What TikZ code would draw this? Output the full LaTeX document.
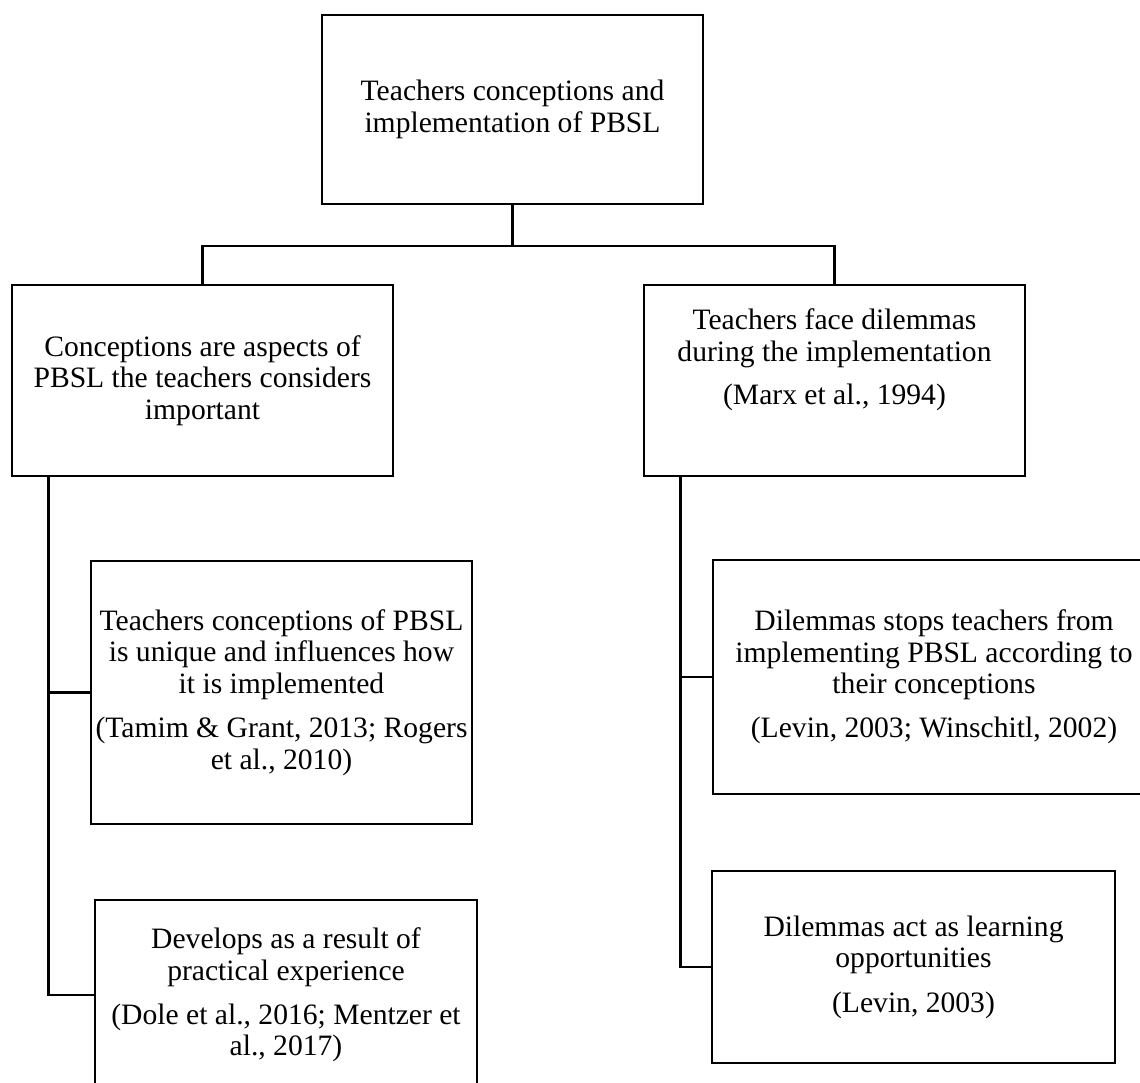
\documentclass[tikz,border=0pt]{standalone}
\usepackage{fontspec}
\setmainfont{Liberation Serif}
\usetikzlibrary{calc}

\tikzset{
  x=0.5pt, y=-0.5pt,
  box/.style={draw, line width=1.3pt, align=center, inner sep=0pt,
    font=\fontsize{14.8pt}{15.7pt}\selectfont},
  link/.style={line width=1.3pt}
}

\begin{document}
\begin{tikzpicture}
  \clip (0,0) rectangle (1140,1082);

  % root of the tree
  \node[box, minimum width=190.5pt, minimum height=94.5pt] (top) at (512.5,109.5)
    {Teachers conceptions and\\implementation of PBSL};

  % two main branches
  \node[box, minimum width=190.5pt, minimum height=95.5pt] (A) at (202.5,380.5)
    {Conceptions are aspects of\\PBSL the teachers considers\\important};
  \node[box, minimum width=190.5pt, minimum height=95.5pt] (B) at (834.5,380.5)
    {Teachers face dilemmas\\during the implementation\\[6pt](Marx et al., 1994)\\[8pt]};

  % children of the left branch
  \node[box, minimum width=190.5pt, minimum height=131.5pt] (L1) at (281.5,692.5)
    {Teachers conceptions of PBSL\\is unique and influences how\\it is implemented\\[6.5pt](Tamim \& Grant, 2013; Rogers\\et al., 2010)};
  \node[box, minimum width=191pt, minimum height=95pt] (L2) at (286,995)
    {Develops as a result of\\practical experience\\[6.5pt](Dole et al., 2016; Mentzer et\\al., 2017)};

  % children of the right branch
  \node[box, minimum width=221pt, minimum height=117pt] (R1) at (934,677)
    {Dilemmas stops teachers from\\implementing PBSL according to\\their conceptions\\[6.5pt](Levin, 2003; Winschitl, 2002)};
  \node[box, minimum width=201.5pt, minimum height=96pt] (R2) at (913.5,967)
    {Dilemmas act as learning\\opportunities\\[6.5pt](Levin, 2003)};

  % elbow connectors
  \coordinate (bus) at (0,246);
  \draw[link] (top.south) -- (top.south |- bus) -| (A.north);
  \draw[link] (top.south |- bus) -| (B.north);

  \coordinate (sl) at ($(A.south west)+(38,0)$);
  \draw[link] (sl) |- (L1.west);
  \draw[link] (sl) |- (L2.west);

  \coordinate (sr) at ($(B.south west)+(38,0)$);
  \draw[link] (sr) |- (R1.west);
  \draw[link] (sr) |- (R2.west);
\end{tikzpicture}
\end{document}
